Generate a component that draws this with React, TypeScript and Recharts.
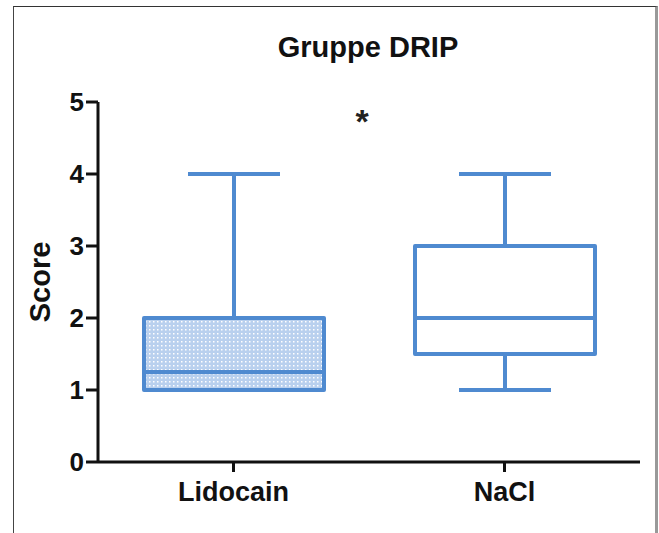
import { Bar, ComposedChart, XAxis, YAxis } from 'recharts'

const groups = ['Lidocain', 'NaCl']
const mins = [1, 1]
const q1s = [1, 1.5]
const medians = [1.25, 2]
const q3s = [2, 3]
const maxs = [4, 4]
const yTicks = [0, 1, 2, 3, 4, 5]

const BLUE = '#4f8ad0'
const font = 'Arial, "Liberation Sans", Helvetica, sans-serif'

// stacked segments: base (invisible) -> lower whisker -> lower box -> upper box -> upper whisker
const data = groups.map((name, i) => ({
  name,
  base: mins[i],
  lowWhisker: q1s[i] - mins[i],
  lowBox: medians[i] - q1s[i],
  highBox: q3s[i] - medians[i],
  highWhisker: maxs[i] - q3s[i],
  dotted: i === 0,
}))

const CAP = 92
const SW = 4

const LowWhisker = (p: any) => {
  const cx = p.x + p.width / 2
  return (
    <g>
      <line x1={cx} x2={cx} y1={p.y} y2={p.y + p.height} stroke={BLUE} strokeWidth={SW} />
      <line x1={cx - CAP / 2} x2={cx + CAP / 2} y1={p.y + p.height} y2={p.y + p.height} stroke={BLUE} strokeWidth={SW} />
    </g>
  )
}

const HighWhisker = (p: any) => {
  const cx = p.x + p.width / 2
  return (
    <g>
      <line x1={cx} x2={cx} y1={p.y} y2={p.y + p.height} stroke={BLUE} strokeWidth={SW} />
      <line x1={cx - CAP / 2} x2={cx + CAP / 2} y1={p.y} y2={p.y} stroke={BLUE} strokeWidth={SW} />
    </g>
  )
}

const BoxPart = (p: any) => (
  <rect
    x={p.x}
    y={p.y}
    width={p.width}
    height={Math.max(p.height, 0)}
    fill={p.payload.dotted ? 'url(#dots)' : 'none'}
    stroke={BLUE}
    strokeWidth={SW}
    strokeLinejoin="round"
  />
)

const Empty = () => null

const textStyle = { fontFamily: font, fontWeight: 'bold' as const, fill: '#111' }

export default function App() {
  return (
    <div style={{ position: 'absolute', left: 0, top: 0, width: 659, height: 533, background: '#fff', overflow: 'hidden' }}>
      <div
        style={{
          position: 'absolute',
          left: 13,
          top: 6,
          width: 641,
          height: 540,
          borderLeft: '1.5px solid #444',
          borderTop: '1.5px solid #333',
          borderRight: '3px solid #999',
        }}
      />
      <div
        style={{
          position: 'absolute',
          left: 218,
          width: 300,
          top: 31,
          lineHeight: '32px',
          textAlign: 'center',
          fontFamily: font,
          fontWeight: 'bold',
          fontSize: 29,
          color: '#111',
        }}
      >
        Gruppe DRIP
      </div>
      <div
        style={{
          position: 'absolute',
          left: 342,
          width: 40,
          top: 104,
          lineHeight: '34px',
          textAlign: 'center',
          fontFamily: font,
          fontWeight: 'bold',
          fontSize: 34,
          color: '#222',
        }}
      >
        *
      </div>
      <div style={{ position: 'absolute', left: 0, top: 0 }}>
        <ComposedChart
          width={659}
          height={533}
          data={data}
          barCategoryGap={0}
          margin={{ top: 102, right: 19, bottom: 21, left: 38 }}
        >
          <defs>
            <pattern id="dots" width="4" height="4" patternUnits="userSpaceOnUse">
              <rect width="4" height="4" fill="#b9d0ee" />
              <rect x="1" y="1" width="1.5" height="1.5" fill="#ffffff" />
            </pattern>
          </defs>
          <XAxis
            dataKey="name"
            height={50}
            axisLine={{ stroke: '#111', strokeWidth: 3 }}
            tickLine={{ stroke: '#111', strokeWidth: 3 }}
            tickSize={10}
            tickMargin={10}
            tick={{ ...textStyle, fontSize: 27 }}
          />
          <YAxis
            type="number"
            domain={[0, 5]}
            ticks={yTicks}
            width={60}
            axisLine={{ stroke: '#111', strokeWidth: 3 }}
            tickLine={{ stroke: '#111', strokeWidth: 3 }}
            tickSize={12}
            tickMargin={2}
            tick={{ ...textStyle, fontSize: 26 }}
            label={{
              value: 'Score',
              angle: -90,
              position: 'insideLeft',
              offset: 2,
              style: { ...textStyle, fontSize: 29, textAnchor: 'middle' },
            }}
          />
          <Bar dataKey="base" stackId="box" barSize={180} shape={Empty} isAnimationActive={false} />
          <Bar dataKey="lowWhisker" stackId="box" barSize={180} shape={LowWhisker} isAnimationActive={false} />
          <Bar dataKey="lowBox" stackId="box" barSize={180} shape={BoxPart} isAnimationActive={false} />
          <Bar dataKey="highBox" stackId="box" barSize={180} shape={BoxPart} isAnimationActive={false} />
          <Bar dataKey="highWhisker" stackId="box" barSize={180} shape={HighWhisker} isAnimationActive={false} />
        </ComposedChart>
      </div>
    </div>
  )
}
